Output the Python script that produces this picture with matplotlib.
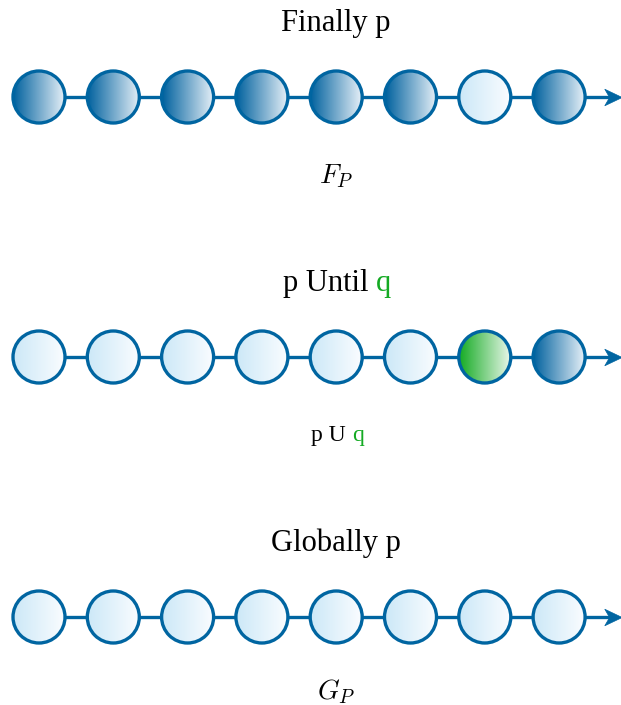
import numpy as np
import matplotlib
matplotlib.use("Agg")
import matplotlib.pyplot as plt
from matplotlib.patches import Circle
from matplotlib.path import Path

plt.rcParams['mathtext.fontset'] = 'cm'

# one row per formula: title, caption, state of each of the 8 steps
titles = [("Finally p", ""), ("p Until ", "q"), ("Globally p", "")]
captions = [(r"$F_P$", ""), ("p U ", "q"), (r"$G_P$", "")]
states = [
    ["p", "p", "p", "p", "p", "p", "n", "p"],
    ["n", "n", "n", "n", "n", "n", "q", "p"],
    ["n", "n", "n", "n", "n", "n", "n", "n"],
]
n_steps = 8

blue = (0 / 255, 101 / 255, 161 / 255)
green = (20 / 255, 170 / 255, 35 / 255)
# left colour -> right colour of the horizontal shading
shades = {
    "p": ((0.0, 0.38, 0.62), (0.90, 0.94, 0.97)),
    "n": ((0.80, 0.91, 0.97), (0.98, 0.99, 1.0)),
    "q": ((0.08, 0.67, 0.14), (0.92, 0.97, 0.92)),
}

# stealth-like arrow head used as a marker
stealth = Path([(1, 0), (-1, 0.95), (-0.45, 0), (-1, -0.95), (1, 0)],
               [Path.MOVETO, Path.LINETO, Path.LINETO, Path.LINETO, Path.CLOSEPOLY])

fig = plt.figure(figsize=(6.21, 7.05), dpi=100)
ax = fig.add_axes([0, 0, 1, 1])
ax.set_xlim(0, 621)
ax.set_ylim(705, 0)
ax.axis("off")

x0, dx, r = 39, 74.3, 26
row_y = [97, 357, 617]
title_y = [23, 284, 543]
cap_y = [176, 436, 692]


def shaded_circle(cx, cy, kind):
    c1, c2 = shades[kind]
    t = np.linspace(0, 1, 100)
    img = np.array([[c1[k] + (c2[k] - c1[k]) * v for k in range(3)] for v in t])[None, :, :]
    im = ax.imshow(img, extent=(cx - r, cx + r, cy + r, cy - r), zorder=3,
                   interpolation="bilinear", aspect="auto")
    clip = Circle((cx, cy), r, transform=ax.transData, facecolor="none")
    im.set_clip_path(clip)
    ax.add_patch(Circle((cx, cy), r, facecolor="none", edgecolor=blue, lw=2.4, zorder=4))


def two_tone(x, y, parts, size, math=False):
    a, b = parts
    if not b:
        kw = {} if math else {"family": "Liberation Serif"}
        ax.text(x, y, a, ha="center", va="center", fontsize=size, **kw)
        return
    ax.text(x, y, a, ha="right", va="center", fontsize=size,
            family="Liberation Serif")
    ax.text(x, y, b, ha="left", va="center", fontsize=size,
            family="Liberation Serif", color=green)


for i in range(3):
    y = row_y[i]
    xs = [x0 + dx * j for j in range(n_steps)]
    ax.plot([xs[0], 612], [y, y], color=blue, lw=2.4, zorder=1)
    ax.plot([612.5], [y], marker=stealth, markersize=12.5, color=blue, mec=blue,
            mew=0.5, zorder=2)
    for j in range(n_steps):
        shaded_circle(xs[j], y, states[i][j])

two_tone(336, title_y[0], titles[0], 22)
two_tone(376, title_y[1], titles[1], 22)
two_tone(336, title_y[2], titles[2], 22)

two_tone(336, cap_y[0], captions[0], 20, math=True)
two_tone(352, cap_y[1], captions[1], 17)
two_tone(336, cap_y[2], captions[2], 20, math=True)

fig.savefig("out.png", dpi=100)
